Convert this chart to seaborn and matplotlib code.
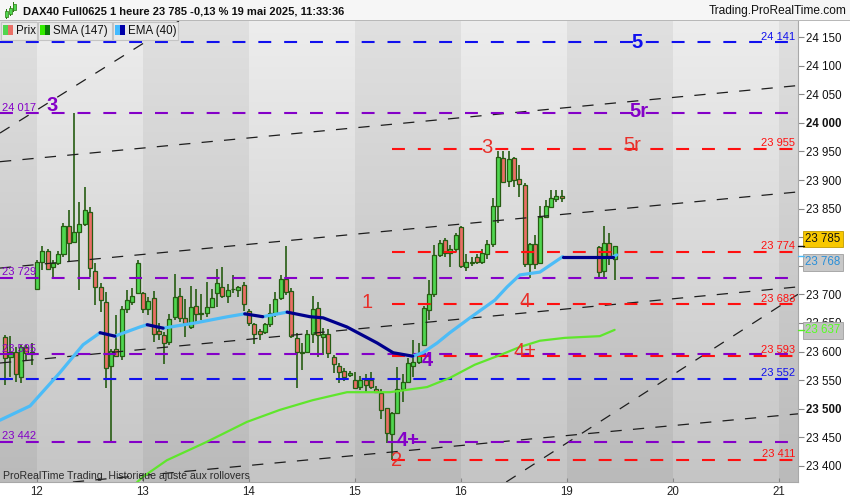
import matplotlib
matplotlib.use("Agg")
import matplotlib.pyplot as plt
from matplotlib.patches import Rectangle
from matplotlib.transforms import offset_copy, blended_transform_factory
import seaborn as sns
import pandas as pd
import numpy as np

W, H = 850, 500

# hourly bars, index 0 = first bar of monday 12 (20 bars per day)
bar_idx = list(range(-6, 100)) + [106, 107, 108, 109]
opens = [23626, 23590, 23600, 23556, 23608, 23600,
         23710, 23757, 23776, 23748, 23755, 23771, 23820, 23792, 23809, 23823, 23844, 23741, 23713, 23687, 23575, 23605, 23592, 23675, 23687, 23703,
         23703, 23675, 23694, 23636, 23629, 23617, 23660, 23697, 23659, 23643, 23680, 23666, 23667, 23678, 23702, 23713, 23697, 23709, 23707, 23717,
         23671, 23648, 23636, 23634, 23648, 23666, 23694, 23727, 23706, 23624, 23598, 23599, 23631, 23676, 23626, 23631, 23591, 23575, 23566, 23559,
         23550, 23538, 23550, 23550, 23535, 23528, 23501, 23456, 23493, 23534, 23547, 23575, 23582, 23612, 23673, 23700, 23769, 23795, 23772, 23779,
         23818, 23748, 23755, 23765, 23757, 23771, 23788, 23855, 23938, 23898, 23939, 23902, 23891, 23753, 23788, 23755, 23836, 23853, 23867, 23872,
         23783, 23741, 23790, 23762]
highs = [23629, 23628, 23608, 23612, 23612, 23615,
         23760, 23785, 23780, 23760, 23775, 23825, 23848, 24017, 23862, 23888, 23853, 23755, 23720, 23704, 23605, 23664, 23680, 23707, 23712, 23760,
         23705, 23696, 23706, 23650, 23634, 23666, 23736, 23712, 23692, 23715, 23710, 23700, 23722, 23710, 23744, 23748, 23718, 23734, 23715, 23722,
         23674, 23650, 23640, 23650, 23683, 23704, 23734, 23785, 23711, 23633, 23615, 23638, 23697, 23687, 23641, 23640, 23594, 23580, 23572, 23566,
         23564, 23557, 23560, 23565, 23540, 23535, 23502, 23495, 23573, 23560, 23589, 23620, 23615, 23680, 23725, 23787, 23795, 23798, 23786, 23807,
         23820, 23770, 23765, 23770, 23780, 23795, 23869, 23951, 23951, 23951, 23941, 23926, 23895, 23790, 23804, 23855, 23865, 23883, 23883, 23882,
         23785, 23820, 23807, 23785]
lows = [23542, 23555, 23547, 23545, 23585, 23577,
        23708, 23743, 23743, 23727, 23752, 23765, 23757, 23790, 23708, 23820, 23731, 23682, 23670, 23537, 23442, 23590, 23585, 23667, 23682, 23700,
        23668, 23664, 23617, 23620, 23578, 23612, 23655, 23652, 23626, 23640, 23650, 23655, 23660, 23676, 23678, 23694, 23685, 23702, 23695, 23671,
        23645, 23613, 23620, 23631, 23643, 23660, 23690, 23699, 23623, 23536, 23568, 23597, 23615, 23591, 23594, 23589, 23563, 23545, 23548, 23556,
        23535, 23533, 23530, 23535, 23528, 23482, 23440, 23411, 23492, 23512, 23545, 23555, 23578, 23610, 23655, 23696, 23765, 23766, 23748, 23774,
        23746, 23741, 23750, 23754, 23754, 23762, 23783, 23825, 23895, 23888, 23888, 23870, 23748, 23729, 23745, 23754, 23834, 23853, 23862, 23862,
        23731, 23731, 23751, 23726]
closes = [23589, 23600, 23560, 23608, 23597, 23595,
          23757, 23776, 23745, 23755, 23771, 23820, 23790, 23809, 23823, 23848, 23746, 23713, 23690, 23571, 23601, 23592, 23675, 23690, 23697, 23755,
          23675, 23689, 23631, 23631, 23615, 23657, 23696, 23659, 23650, 23678, 23666, 23668, 23678, 23694, 23720, 23697, 23708, 23710, 23713, 23683,
          23650, 23631, 23631, 23648, 23668, 23692, 23727, 23704, 23628, 23599, 23600, 23631, 23675, 23629, 23631, 23598, 23578, 23564, 23556, 23563,
          23536, 23550, 23542, 23538, 23530, 23498, 23458, 23493, 23534, 23547, 23580, 23582, 23598, 23676, 23700, 23769, 23790, 23772, 23779, 23804,
          23750, 23757, 23757, 23756, 23773, 23788, 23855, 23940, 23897, 23937, 23900, 23893, 23753, 23788, 23753, 23836, 23855, 23869, 23872, 23868,
          23740, 23790, 23767, 23785]

# EMA(40)
ema_idx = [-7.0, -1.3, 4.3, 8.7, 11.9, 14.7, 19.4, 20.8, 23.8, 29.8, 36.0, 39.2, 42.6, 47.2, 51.5, 54.0,
           58.5, 64.2, 67.2, 70.9, 72.8, 75.5, 77.9, 81.7, 86.4, 88.7, 91.1, 94.9, 99.2, 108.7, 109.4]
ema_val = [23480, 23505, 23563, 23612, 23633, 23627, 23643, 23647, 23641, 23650, 23661, 23666, 23661, 23669, 23661, 23659,
           23643, 23615, 23598, 23592, 23598, 23615, 23633, 23659, 23690, 23713, 23734, 23739, 23766, 23766, 23769]

# SMA(147)
sma_idx = [17.5, 20.0, 24.5, 32.0, 39.6, 45.8, 52.0, 58.5, 66.6, 73.6, 77.9, 82.6, 87.4, 91.1, 94.9, 99.6, 106.2, 109.0]
sma_val = [23360, 23381, 23410, 23442, 23477, 23498, 23515, 23529, 23529, 23538, 23554, 23577, 23594, 23608, 23619, 23624, 23627, 23638]

day_starts = [0, 20, 40, 60, 80, 100, 120, 140]
day_labels = ["12", "13", "14", "15", "16", "19", "20", "21"]

purple_levels = [24017, 23729, 23595, 23442]
red_levels = [23955, 23774, 23683, 23593, 23411]
blue_levels = [24141, 23552]

# dashed channel lines, two anchor points each (bar index, price)
trend_lines = [((-7.0, 23982), (21.1, 24145)),
               ((-7.0, 23932), (143.4, 24065)),
               ((-7.0, 23746), (143.4, 23879)),
               ((-7.0, 23580), (143.4, 23713)),
               ((-7.0, 23360), (143.4, 23491)),
               ((87.7, 23367), (143.4, 23699))]

PURPLE, RED, BLUE = "#8400c8", "#ff1010", "#1010ee"
GREEN_C, RED_C, WICK = "#4fd64f", "#ea6f66", "#265c12"

sns.set_theme(style="white")
plt.rcParams['font.family'] = ['Liberation Sans', 'DejaVu Sans']

fig = plt.figure(figsize=(W / 100, H / 100), dpi=100)
fig.patch.set_facecolor("white")


def fx(x):
    return x / W


def fy(y):
    return 1 - y / H


def prect(x0, y0, x1, y1, **kw):
    fig.add_artist(Rectangle((fx(x0), fy(y1)), (x1 - x0) / W, (y1 - y0) / H,
                             transform=fig.transFigure, **kw))


ax = fig.add_axes([0, fy(482), fx(798), (482 - 21) / H])
x_lo, x_hi = -6.98, 143.6
y_lo, y_hi = 23372, 24178

# background: alternating day bands with vertical gradient
rows = 200
t = np.linspace(0, 1, rows)[:, None]
light = (np.array([237, 237, 237]) / 255, np.array([197, 197, 197]) / 255)
dark = (np.array([224, 224, 224]) / 255, np.array([186, 186, 186]) / 255)
img = np.zeros((rows, 9, 3))
for k in range(9):
    top, bot = light if k % 2 == 1 else dark
    img[:, k, :] = top + (bot - top) * t
ax.imshow(img, extent=[-20, 160, y_lo, y_hi], origin='upper', aspect='auto',
          interpolation='nearest', zorder=0)

# candles
df = pd.DataFrame({'i': bar_idx, 'o': opens, 'h': highs, 'l': lows, 'c': closes})
up = df.c >= df.o
ax.vlines(df.i, df.l, df.h, color=WICK, lw=1.2, zorder=2)
ax.bar(df.i, (df.c - df.o).abs().clip(lower=1), bottom=df[['o', 'c']].min(axis=1), width=0.76,
       color=np.where(up, GREEN_C, RED_C), edgecolor=WICK, linewidth=0.9, zorder=2.5)

# channel lines
for p0, p1 in trend_lines:
    ax.axline(p0, p1, color="#1e1e1e", lw=0.9, linestyle=(0, (9, 9)), zorder=3)

# horizontal levels
dash = (0, (6.2, 6.2))
ax.hlines(purple_levels, x_lo, x_hi, color=PURPLE, lw=1.5, linestyles=[dash], zorder=3)
ax.hlines(blue_levels, x_lo, x_hi, color=BLUE, lw=1.5, linestyles=[dash], zorder=3)
ax.hlines(red_levels, 67, x_hi, color=RED, lw=1.5, linestyles=[dash], zorder=3)


def fmt(v):
    return f"{v:,}".replace(",", " ")


for v in purple_levels:
    ax.text(-6.6, v + 1, fmt(v), color=PURPLE, fontsize=8, ha='left', va='bottom', zorder=6)
for v, c in [(24141, BLUE), (23552, BLUE)] + [(r, RED) for r in red_levels]:
    ax.text(143.1, v + 1, fmt(v), color=c, fontsize=8, ha='right', va='bottom', zorder=6)

# SMA
sns.lineplot(x=sma_idx, y=sma_val, color="#5fe62c", lw=1.6, ax=ax, legend=False, zorder=4)

# EMA, dark where falling
segs = []
seg = 0
kind_prev = None
for k in range(len(ema_idx) - 1):
    kind = 'down' if ema_val[k + 1] <= ema_val[k] else 'up'
    if kind != kind_prev:
        seg += 1
        kind_prev = kind
    segs.append((seg, kind, ema_idx[k], ema_val[k]))
    segs.append((seg, kind, ema_idx[k + 1], ema_val[k + 1]))
ema_df = pd.DataFrame(segs, columns=['seg', 'kind', 'x', 'y'])
sns.lineplot(data=ema_df, x='x', y='y', units='seg', estimator=None, hue='kind', sort=False,
             palette={'up': '#4cbcf7', 'down': '#00008c'}, lw=2.3, ax=ax, legend=False, zorder=5)

# wave labels
waves = [("5", 113.2, 24141, BLUE, 'bold'),
         ("3", 2.8, 24030, PURPLE, 'bold'),
         ("5r", 113.6, 24019, PURPLE, 'bold'),
         ("3", 84.9, 23956, "#e8302a", 'normal'),
         ("5r", 112.3, 23960, "#e8302a", 'normal'),
         ("1", 62.3, 23685, "#e8302a", 'normal'),
         ("4", 92.1, 23687, "#e8302a", 'normal'),
         ("4+", 92.1, 23601, "#e8302a", 'normal'),
         ("4", 73.6, 23584, PURPLE, 'bold'),
         ("4+", 70.0, 23445, PURPLE, 'bold'),
         ("2", 67.9, 23410, "#e8302a", 'normal')]
for txt, xi, p, c, w in waves:
    ax.text(xi, p, txt, color=c, fontsize=14.5, fontweight=w, ha='center', va='center', zorder=6)

ax.set_xlim(x_lo, x_hi)
ax.set_ylim(y_lo, y_hi)
ax.set_xlabel("")
ax.set_ylabel("")
ax.grid(False)

# axes; 23 800 and 23 750 sit behind the current value boxes
yticks = list(range(23400, 24151, 50))
hidden = (23800, 23750)
ax.yaxis.tick_right()
ax.set_yticks(yticks)
ax.set_yticklabels(["" if v in hidden else fmt(v) for v in yticks])
for lab, v in zip(ax.get_yticklabels(), yticks):
    if v in (24000, 23500):
        lab.set_fontweight('bold')
ax.tick_params(axis='y', direction='out', length=4, width=0.8, color='#888888',
               labelsize=8.3, pad=2, labelcolor='#111111', right=True, left=False)
ax.set_xticks(day_starts)
ax.set_xticklabels(day_labels)
ax.tick_params(axis='x', direction='in', length=3, width=0.8, color='#888888',
               labelsize=8.3, pad=3, labelcolor='#222222', bottom=True)
for s in ['top', 'left']:
    ax.spines[s].set_visible(False)
for s in ['right', 'bottom']:
    ax.spines[s].set_color('#a8a8a8')
    ax.spines[s].set_linewidth(0.8)

# current value boxes on the price scale
trans = blended_transform_factory(ax.transAxes, ax.transData)
boxes = [(23785, 5, '#111111', '#f8c800', '#c09a00', '#111111'),
         (23768, -5, '#2a8fd8', '#c8c8c8', '#a0a0a0', '#4cbcf7'),
         (23637, 0, '#55ff22', '#c2c2c2', '#a0a0a0', '#55ee22')]
for v, dy, tc, fc, ec, tick_c in boxes:
    ax.text(1.009, v, fmt(v), transform=offset_copy(trans, fig=fig, x=0, y=dy, units='points'),
            color=tc, fontsize=8.3, ha='left', va='center', clip_on=False, zorder=7,
            bbox=dict(boxstyle='square,pad=0.18', fc=fc, ec=ec, lw=0.6))
    ax.plot([1.0, 1.008], [v, v], transform=trans, color=tick_c, lw=1, clip_on=False, zorder=7)

# header strip
prect(0, 0, 850, 20, fc='#f6f6f6', ec='none', zorder=1)
prect(0, 20, 850, 21, fc='#b8b8b8', ec='none', zorder=1)
for cx, top, bot in [(6, 11, 17), (10, 8, 14), (14, 4, 10)]:
    prect(cx - 0.5, top - 2, cx + 0.5, bot + 2, fc='#2a7a10', ec='none', zorder=2)
    prect(cx - 1.5, top, cx + 1.5, bot, fc='#4fd64f', ec='#2a7a10', lw=0.5, zorder=3)
fig.text(fx(23), fy(11), "DAX40 Full0625 1 heure 23 785 -0,13 % 19 mai 2025, 11:33:36",
         fontsize=8, fontweight='bold', color='#111111', va='center', ha='left')
fig.text(fx(847), fy(11), "Trading.ProRealTime.com", fontsize=8.6, color='#111111',
         va='center', ha='right')

# legend tabs
tabs = [(1, 37, "Prix", GREEN_C, RED_C),
        (38, 112, "SMA (147)", "#33ee00", "#0a7a0a"),
        (113, 178, "EMA (40)", "#44bbff", "#0000aa")]
for x0, x1, label, c1, c2 in tabs:
    prect(x0, 22, x1, 40, fc='#e9e9e9', ec='#c4c4c4', lw=0.8, zorder=2)
    prect(x0 + 2, 25, x0 + 7, 35, fc=c1, ec='none', zorder=3)
    prect(x0 + 7, 25, x0 + 12, 35, fc=c2, ec='none', zorder=3)
    fig.text(fx(x0 + 15), fy(31), label, fontsize=8.3, color='#111111', va='center', ha='left', zorder=4)

fig.text(fx(3), fy(476), "ProRealTime Trading  Historique ajusté aux rollovers",
         fontsize=7.6, color='#2a2a2a', va='center', ha='left')

fig.savefig("out.png", dpi=100, facecolor=fig.get_facecolor())
